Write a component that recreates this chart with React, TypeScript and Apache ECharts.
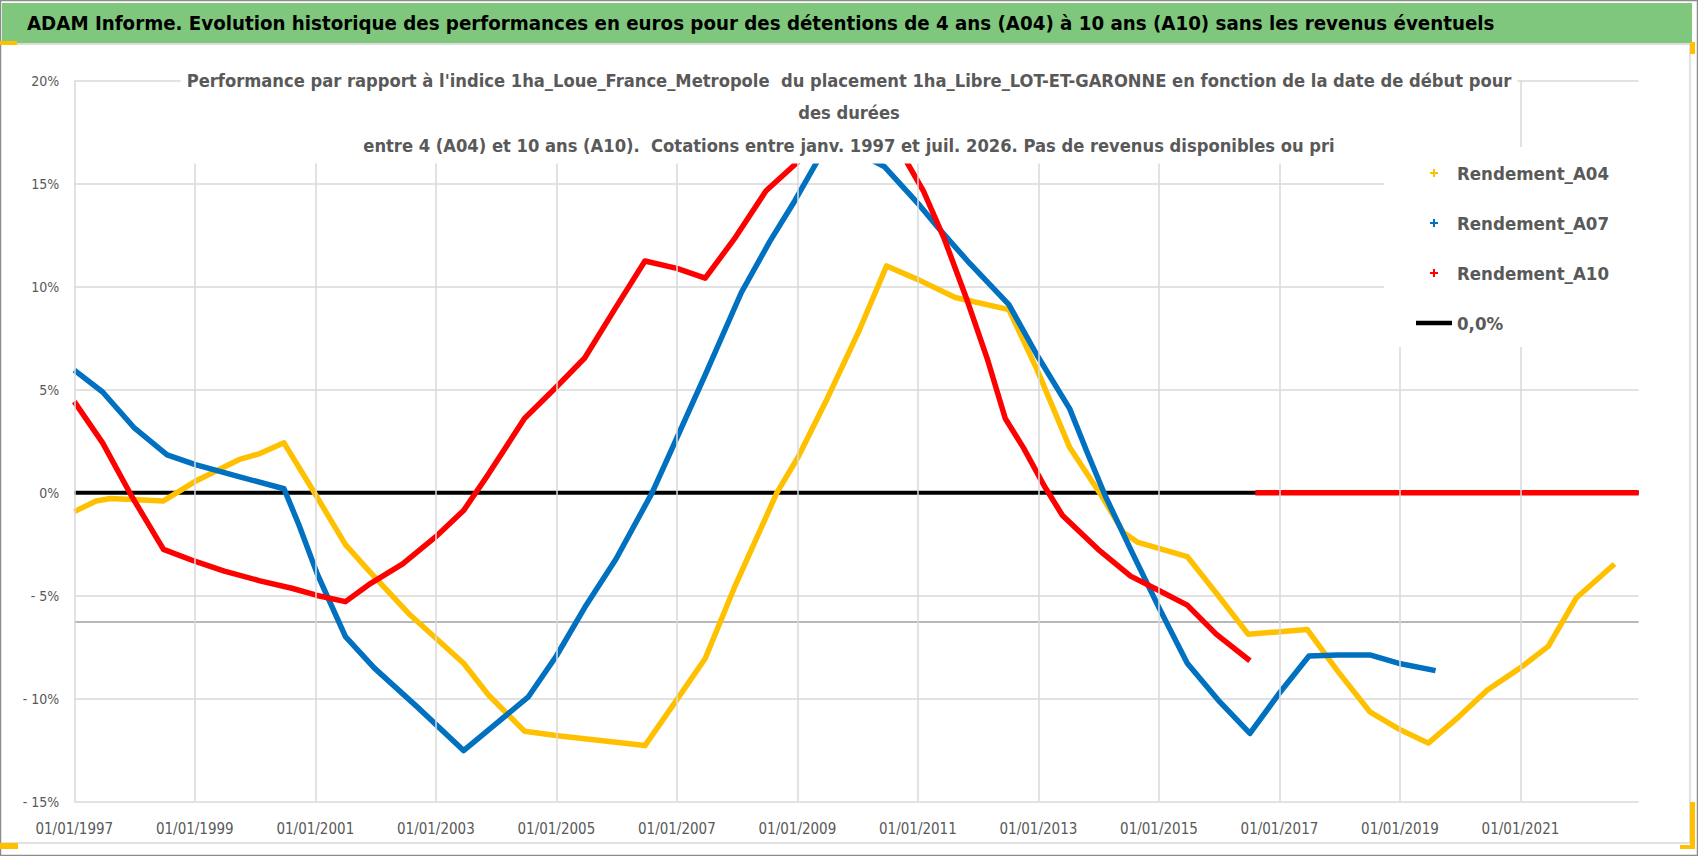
import React, { useEffect, useRef } from 'react';
import * as echarts from 'echarts';

const FONT = "'DejaVu Sans Condensed', 'Liberation Sans', sans-serif";

const START_YEAR = 1997;
const END_YEAR = 2022.96;

const MAIN_TITLE =
  'ADAM Informe. Evolution historique des performances en euros pour des détentions de 4 ans (A04) à 10 ans (A10) sans les revenus éventuels';
const CHART_TITLE_LINES = [
  "Performance par rapport à l'indice 1ha_Loue_France_Metropole  du placement 1ha_Libre_LOT-ET-GARONNE en fonction de la date de début pour",
  'des durées',
  'entre 4 (A04) et 10 ans (A10).  Cotations entre janv. 1997 et juil. 2026. Pas de revenus disponibles ou pri',
];

// années des lignes verticales du quadrillage (tous les 2 ans)
const gridYears = [1997, 1999, 2001, 2003, 2005, 2007, 2009, 2011, 2013, 2015, 2017, 2019, 2021];

// [année décimale, performance en %]
const rendementA04: [number, number][] = [
  [1997.0, -0.92], [1997.36, -0.4], [1997.6, -0.28], [1998.48, -0.4], [1999.0, 0.54], [1999.73, 1.6],
  [2000.08, 1.9], [2000.48, 2.42], [2000.97, 0.07], [2001.5, -2.52], [2001.86, -3.7], [2002.57, -5.93],
  [2003.46, -8.28], [2003.87, -9.81], [2004.47, -11.58], [2005.06, -11.81], [2005.99, -12.12], [2006.47, -12.28],
  [2007.0, -10.05], [2007.47, -8.05], [2007.95, -4.64], [2008.66, 0], [2009.01, 1.72], [2009.49, 4.54],
  [2010.02, 7.84], [2010.48, 11.01], [2011.03, 10.31], [2011.62, 9.48], [2012.51, 8.89], [2012.98, 5.95],
  [2013.52, 2.19], [2014.05, -0.16], [2014.41, -1.93], [2014.64, -2.4], [2015.47, -3.1], [2015.95, -4.87],
  [2016.48, -6.87], [2017.01, -6.75], [2017.46, -6.64], [2017.96, -8.64], [2018.5, -10.64], [2018.97, -11.46],
  [2019.47, -12.16], [2019.98, -10.87], [2020.45, -9.58], [2020.99, -8.52], [2021.46, -7.46], [2021.93, -5.1],
  [2022.56, -3.46],
];

const rendementA07: [number, number][] = [
  [1997.0, 5.95], [1997.47, 4.89], [1998.0, 3.13], [1998.54, 1.84], [1999.01, 1.36], [1999.73, 0.78],
  [2000.48, 0.19], [2000.73, -1.58], [2001.03, -3.93], [2001.5, -6.99], [2001.98, -8.52], [2002.69, -10.4],
  [2003.46, -12.52], [2004.53, -9.93], [2005.0, -7.93], [2005.47, -5.58], [2005.99, -3.22], [2006.59, 0],
  [2007.0, 2.66], [2007.47, 5.72], [2008.07, 9.72], [2008.54, 12.19], [2008.96, 14.19], [2009.37, 16.3],
  [2009.75, 18.0], [2010.14, 16.3], [2010.44, 15.84], [2011.03, 13.95], [2011.33, 12.89], [2011.86, 11.13],
  [2012.51, 9.13], [2012.98, 6.66], [2013.52, 4.07], [2013.81, 1.95], [2014.11, -0.16], [2014.53, -2.75],
  [2015.0, -5.58], [2015.47, -8.28], [2016.01, -10.16], [2016.51, -11.69], [2017.01, -9.69], [2017.49, -7.93],
  [2017.96, -7.88], [2018.5, -7.88], [2018.97, -8.28], [2019.59, -8.64],
];

const rendementA10: [number, number][] = [
  [1997.0, 4.42], [1997.47, 2.42], [1997.95, -0.16], [1998.48, -2.75], [1999.01, -3.34], [1999.49, -3.81],
  [2000.08, -4.28], [2000.61, -4.64], [2001.03, -4.99], [2001.5, -5.29], [2001.92, -4.4], [2002.45, -3.46],
  [2002.99, -2.16], [2003.46, -0.87], [2003.87, 0.89], [2004.47, 3.6], [2005.0, 5.13], [2005.47, 6.54],
  [2005.99, 9.01], [2006.47, 11.25], [2007.0, 10.89], [2007.47, 10.42], [2007.95, 12.31], [2008.48, 14.66],
  [2009.01, 16.07], [2009.6, 17.8], [2010.2, 18.8], [2010.79, 16.19], [2011.09, 14.66], [2011.44, 12.31],
  [2011.8, 9.48], [2012.16, 6.42], [2012.45, 3.6], [2012.75, 2.19], [2013.1, 0.31], [2013.4, -1.11],
  [2013.99, -2.75], [2014.53, -4.05], [2015.0, -4.75], [2015.47, -5.46], [2015.95, -6.87], [2016.51, -8.16],
];
// A10 : valeurs nulles après la dernière cotation disponible
const rendementA10Zeros: [number, number][] = [[2016.6, 0], [2022.96, 0]];

const zeroLine: [number, number][] = [[1997.0, 0], [2022.96, 0]];
const greyLine: [number, number][] = [[1997.0, -6.28], [2022.96, -6.28]];

const PLUS = 'path://M3,0h2v3h3v2h-3v3h-2v-3h-3v-2h3z';

const toXY = (pts: [number, number][]) => pts.map(([y, v]) => [y - START_YEAR, v]);

export default function App() {
  const ref = useRef<HTMLDivElement>(null);

  useEffect(() => {
    if (!ref.current) return;
    const chart = echarts.init(ref.current, null, { renderer: 'svg' });

    const seriesLine = (name: string, color: string, data: any[]) => ({
      name,
      type: 'line',
      data,
      color,
      showSymbol: false,
      symbol: 'none',
      lineStyle: { color, width: 5.5, join: 'round' },
      emphasis: { disabled: true },
      silent: true,
    });

    chart.setOption({
      animation: false,
      backgroundColor: '#ffffff',
      textStyle: { fontFamily: FONT },
      graphic: [
        { type: 'rect', z: 0, shape: { x: 0.5, y: 0.5, width: 1697, height: 855 }, style: { fill: 'none', stroke: '#8c8c8c', lineWidth: 1.5 } },
        { type: 'rect', z: 0, shape: { x: 2, y: 3, width: 1690, height: 40 }, style: { fill: '#7fc77d' } },
        { type: 'line', z: 0, shape: { x1: 2, y1: 44, x2: 1692, y2: 44 }, style: { stroke: '#d0d0d0', lineWidth: 1.5 } },
        { type: 'line', z: 0, shape: { x1: 1690, y1: 44, x2: 1690, y2: 843 }, style: { stroke: '#d9d9d9', lineWidth: 1.5 } },
        { type: 'line', z: 0, shape: { x1: 2, y1: 843, x2: 1690, y2: 843 }, style: { stroke: '#d9d9d9', lineWidth: 1.5 } },
        { type: 'rect', z: 0, shape: { x: 0, y: 41, width: 17, height: 4 }, style: { fill: '#ffc000' } },
        { type: 'rect', z: 0, shape: { x: 0, y: 843, width: 18, height: 6 }, style: { fill: '#ffc000' } },
        { type: 'rect', z: 0, shape: { x: 1690, y: 802, width: 5, height: 47 }, style: { fill: '#ffc000' } },
        { type: 'rect', z: 0, shape: { x: 1680, y: 845, width: 15, height: 4 }, style: { fill: '#ffc000' } },
        { type: 'rect', z: 0, shape: { x: 1690, y: 42, width: 5, height: 12 }, style: { fill: '#ffc000' } },
      ],
      title: [
        {
          text: MAIN_TITLE,
          left: 27,
          top: 9,
          padding: 0,
          textStyle: { fontFamily: FONT, fontSize: 20.3, fontWeight: 'bold', color: '#000000', lineHeight: 28 },
        },
        {
          text: CHART_TITLE_LINES.join('\n'),
          left: 'center',
          top: 62,
          padding: [2, 6],
          backgroundColor: '#ffffff',
          z: 8,
          textStyle: { fontFamily: FONT, fontSize: 18.2, fontWeight: 'bold', color: '#595959', lineHeight: 32.5 },
        },
      ],
      legend: {
        orient: 'vertical',
        left: 1384,
        top: 147,
        padding: [11, 33, 9, 32],
        backgroundColor: '#ffffff',
        selectedMode: false,
        itemWidth: 36,
        itemHeight: 8,
        itemGap: 20,
        z: 8,
        textStyle: { fontFamily: FONT, fontSize: 18.5, fontWeight: 'bold', color: '#595959', lineHeight: 30 },
        data: [
          { name: 'Rendement_A04', icon: PLUS },
          { name: 'Rendement_A07', icon: PLUS },
          { name: 'Rendement_A10', icon: PLUS },
          { name: '0,0%', icon: 'path://M0,0h36v4.5h-36z' },
        ],
      },
      grid: { left: 74.3, right: 59.4, top: 80.8, bottom: 54.4, containLabel: false },
      xAxis: {
        type: 'value',
        min: 0,
        max: END_YEAR - START_YEAR,
        interval: 2,
        axisLine: { show: false },
        axisTick: { show: false },
        splitLine: { show: false },
        axisLabel: {
          showMaxLabel: false,
          margin: 20,
          fontFamily: FONT,
          fontSize: 15,
          color: '#595959',
          formatter: (v: number) => `01/01/${START_YEAR + Math.round(v)}`,
        },
      },
      yAxis: {
        type: 'value',
        min: -15,
        max: 20,
        interval: 5,
        axisLine: { show: false },
        axisTick: { show: false },
        splitLine: { lineStyle: { color: '#d9d9d9', width: 1.5 } },
        axisLabel: {
          margin: 15,
          fontFamily: FONT,
          fontSize: 14,
          color: '#595959',
          formatter: (v: number) => (v < 0 ? `- ${-v}%` : `${v}%`),
        },
      },
      series: [
        {
          name: 'grille',
          type: 'line',
          data: toXY(greyLine),
          showSymbol: false,
          symbol: 'none',
          silent: true,
          z: 1,
          lineStyle: { color: '#b8b8b8', width: 2 },
          markLine: {
            silent: true,
            symbol: 'none',
            label: { show: false },
            lineStyle: { color: '#d9d9d9', width: 1.5, type: 'solid' },
            data: gridYears.map((y) => ({ xAxis: y - START_YEAR })),
          },
        },
        {
          name: '0,0%',
          type: 'line',
          data: toXY(zeroLine),
          color: '#000000',
          showSymbol: false,
          symbol: 'none',
          silent: true,
          lineStyle: { color: '#000000', width: 4 },
        },
        seriesLine('Rendement_A04', '#ffc000', toXY(rendementA04)),
        seriesLine('Rendement_A07', '#0070c0', toXY(rendementA07)),
        seriesLine('Rendement_A10', '#ff0000', [
          ...toXY(rendementA10),
          [2016.55 - START_YEAR, '-'],
          ...toXY(rendementA10Zeros),
        ]),
      ],
    });
    return () => chart.dispose();
  }, []);

  return (
    <div
      ref={ref}
      style={{ position: 'fixed', left: 0, top: 0, width: 1698, height: 856, background: '#ffffff' }}
    />
  );
}
